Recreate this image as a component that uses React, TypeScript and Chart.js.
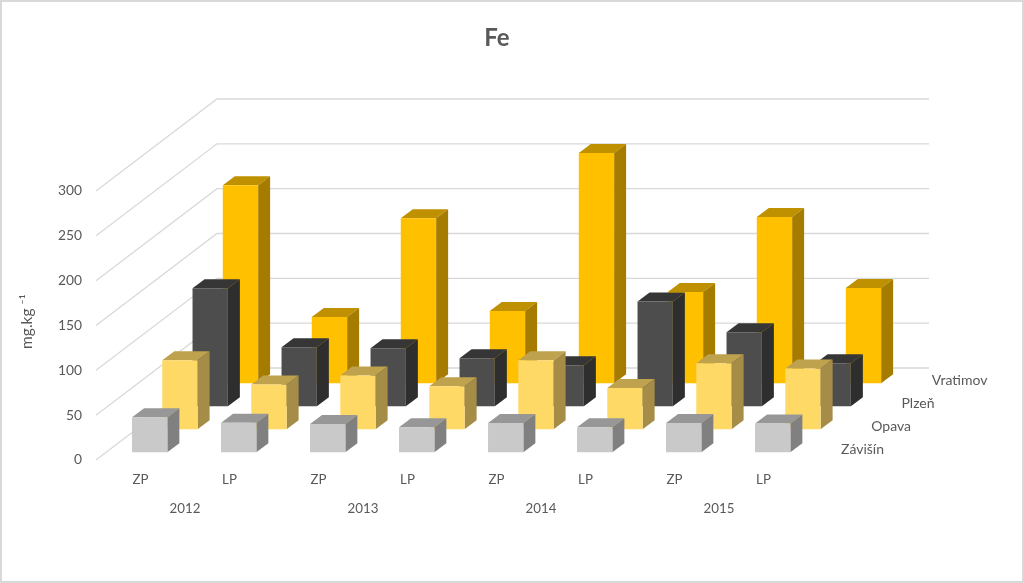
import React, { useEffect, useRef } from "react";
import { Chart, registerables } from "chart.js";

Chart.register(...registerables);

const periods = ["ZP", "LP", "ZP", "LP", "ZP", "LP", "ZP", "LP"];
const years = ["2012", "2013", "2014", "2015"];
const zavisin = [39, 33, 31.5, 28, 32.7, 28, 32.7, 32];
const opava = [77, 50, 60, 48, 77, 46, 73.6, 67.7];
const plzen = [131.6, 65.8, 64.7, 53.5, 45.7, 117, 82.5, 48];
const vratimov = [220.8, 74, 184, 80.6, 256.8, 101.8, 185.5, 106.3];
const tickStep = 50;
const axisMax = 300;

const FONT = "Lato, 'Open Sans', sans-serif";
const TEXT = "#595959";
const GRID = "#D9D9D9";

// Projection of the depth axis
const WALL_DX = 121;
const WALL_DY = -92;
const SLOT_DX = WALL_DX / 4;
const SLOT_DY = WALL_DY / 4;
const START_DX = 9.2;
const START_DY = -7.7;
const BAR_DX = 12;
const BAR_DY = -9;

const faces: Record<string, { top: string; side: string }> = {
  "Závišín": { top: "#979797", side: "#808080" },
  Opava: { top: "#BFA24D", side: "#A68D47" },
  "Plzeň": { top: "#363636", side: "#2E2E2E" },
  Vratimov: { top: "#BF9000", side: "#A67C00" },
};

const depthPlugin = {
  id: "depth3d",
  afterLayout(chart: any) {
    // The title is centred over the whole projected plot, not only its front plane
    chart.titleBlock.left = 0;
    chart.titleBlock.right = 994;
  },
  beforeDatasetsDraw(chart: any) {
    const { ctx, chartArea, scales } = chart;
    const y = scales.y;
    ctx.save();
    ctx.strokeStyle = GRID;
    ctx.lineWidth = 1.3;
    y.ticks.forEach((t: any) => {
      const py = y.getPixelForValue(t.value);
      ctx.beginPath();
      ctx.moveTo(chartArea.left, py);
      ctx.lineTo(chartArea.left + WALL_DX, py + WALL_DY);
      ctx.lineTo(chartArea.right + WALL_DX, py + WALL_DY);
      ctx.stroke();
    });
    ctx.fillStyle = TEXT;
    ctx.font = `14px ${FONT}`;
    ctx.textAlign = "left";
    ctx.textBaseline = "middle";
    chart.data.datasets.forEach((ds: any, i: number) => {
      ctx.fillText(
        ds.label,
        chartArea.right + 33 + SLOT_DX * i,
        chartArea.bottom - 10.5 + SLOT_DY * i
      );
    });
    ctx.restore();
  },
  beforeDatasetDraw(chart: any, args: any) {
    const { ctx } = chart;
    const i = args.index;
    const ds = chart.data.datasets[i];
    ctx.save();
    ctx.translate(START_DX + SLOT_DX * i, START_DY + SLOT_DY * i);
    const f = faces[ds.label];
    args.meta.data.forEach((el: any) => {
      const { x, y, base, width } = el.getProps(["x", "y", "base", "width"], true);
      const l = x - width / 2;
      const r = x + width / 2;
      ctx.fillStyle = f.top;
      ctx.beginPath();
      ctx.moveTo(l, y);
      ctx.lineTo(l + BAR_DX, y + BAR_DY);
      ctx.lineTo(r + BAR_DX, y + BAR_DY);
      ctx.lineTo(r, y);
      ctx.closePath();
      ctx.fill();
      ctx.fillStyle = f.side;
      ctx.beginPath();
      ctx.moveTo(r, y);
      ctx.lineTo(r + BAR_DX, y + BAR_DY);
      ctx.lineTo(r + BAR_DX, base + BAR_DY);
      ctx.lineTo(r, base);
      ctx.closePath();
      ctx.fill();
    });
  },
  afterDatasetDraw(chart: any) {
    chart.ctx.restore();
  },
  afterDraw(chart: any) {
    const { ctx, width, height } = chart;
    ctx.save();
    ctx.strokeStyle = GRID;
    ctx.lineWidth = 2;
    ctx.strokeRect(1, 1, width - 2, height - 2);
    ctx.restore();
  },
};

export default function App() {
  const ref = useRef<HTMLCanvasElement>(null);
  useEffect(() => {
    const bar = (label: string, data: number[], backgroundColor: string) => ({
      label,
      data,
      backgroundColor,
      borderWidth: 0,
      clip: false as const,
      grouped: false,
      barPercentage: 0.397,
      categoryPercentage: 1,
    });
    const chart = new Chart(ref.current!, {
      type: "bar",
      data: {
        labels: periods,
        datasets: [
          bar("Závišín", zavisin, "#C9C9C9"),
          bar("Opava", opava, "#FFD966"),
          bar("Plzeň", plzen, "#4D4D4D"),
          bar("Vratimov", vratimov, "#FFC000"),
        ],
      },
      options: {
        responsive: false,
        animation: false,
        layout: { padding: { left: 0, right: 216, top: 0, bottom: 0 } },
        plugins: {
          legend: { display: false },
          tooltip: { enabled: false },
          title: {
            display: true,
            text: "Fe",
            color: TEXT,
            font: { family: FONT, size: 24, weight: "bold" },
            padding: { top: 24, bottom: 138.2 },
          },
        },
        scales: {
          y: {
            min: 0,
            max: axisMax,
            ticks: {
              stepSize: tickStep,
              color: TEXT,
              font: { family: FONT, size: 13.8 },
              padding: 14,
            },
            grid: { display: false, drawTicks: false },
            border: { display: false },
            title: {
              display: true,
              text: "  mg.kg ⁻¹",
              color: TEXT,
              font: { family: FONT, size: 15.5 },
              padding: { top: 18, bottom: 0 },
            },
            afterFit(s: any) {
              s.width = 96;
            },
          },
          x: {
            weight: 0,
            ticks: {
              color: TEXT,
              font: { family: FONT, size: 13.3 },
              padding: 12,
              maxRotation: 0,
              autoSkip: false,
            },
            grid: { display: false, drawTicks: false },
            border: { display: false },
            afterFit(s: any) {
              s.height = 30;
            },
          },
          x2: {
            type: "category",
            position: "bottom",
            weight: 1,
            offset: true,
            labels: years,
            ticks: {
              color: TEXT,
              font: { family: FONT, size: 13.3 },
              padding: 11,
              maxRotation: 0,
              autoSkip: false,
            },
            grid: { display: false, drawTicks: false },
            border: { display: false },
            afterFit(s: any) {
              s.height = 93;
            },
          },
        },
      } as any,
      plugins: [depthPlugin],
    });
    return () => chart.destroy();
  }, []);
  return (
    <div style={{ position: "absolute", left: 0, top: 0, width: 1024, height: 583, background: "#fff" }}>
      <canvas ref={ref} width={1024} height={583} style={{ display: "block" }} />
    </div>
  );
}
